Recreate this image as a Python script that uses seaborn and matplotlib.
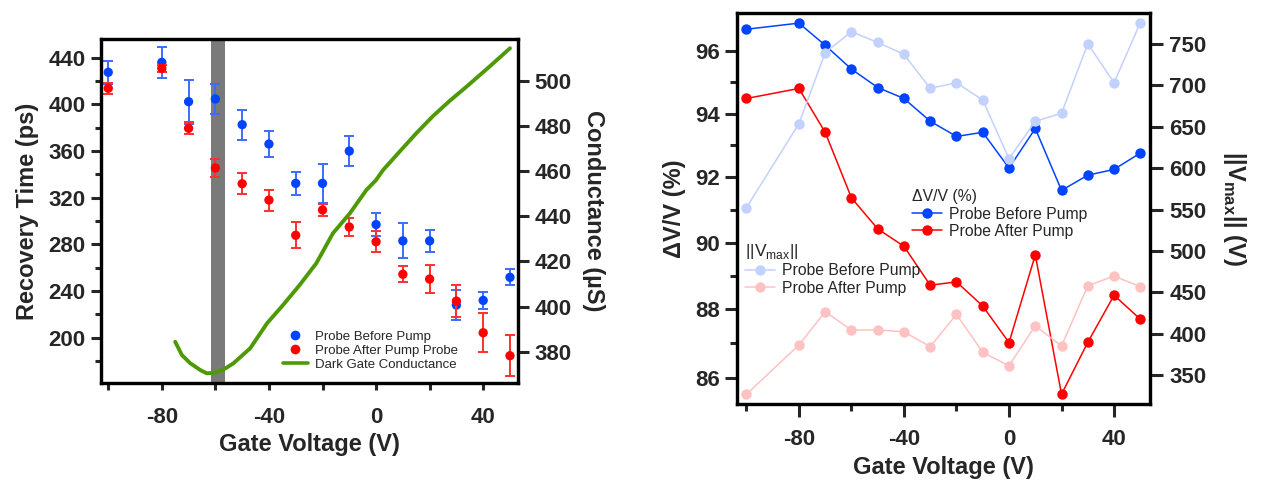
import matplotlib
matplotlib.use("Agg")
import matplotlib.pyplot as plt
import seaborn as sns
import numpy as np
import pandas as pd
from matplotlib.ticker import FixedLocator, NullFormatter, FuncFormatter, NullLocator
from matplotlib.lines import Line2D

# ---------------- data ----------------
gate = [-100, -80, -70, -60, -50, -40, -30, -20, -10, 0, 10, 20, 30, 40, 50]

rec_before = [427.5, 436, 402.3, 404.6, 382.6, 366, 332.3, 332.3, 360, 297, 283, 283, 228, 232, 251.8]
rec_before_err = [10, 13, 19, 13, 13, 11, 10, 16.5, 12.6, 10, 15, 9.5, 12.6, 7.3, 6.8]
rec_after = [413.8, 430.9, 379.5, 345.5, 332, 318, 287.8, 309.5, 294.9, 282.3, 254.4, 250.3, 231.4, 204.3, 184.6]
rec_after_err = [4.6, 3, 5, 8, 9, 9, 11, 5.5, 8, 9, 7, 11.7, 14, 16.5, 17.5]

cond_v = [-75, -72.5, -69.4, -65.7, -63.2, -60, -57.5, -55.7, -53.2, -47, -40.7, -34.5,
          -28.5, -22.3, -16.1, -9.8, -3.6, 0, 2.6, 8.8, 15, 21.3, 27.5, 33.8, 42, 50]
cond_g = [384.4, 378.5, 374.9, 371.9, 370.4, 370.7, 371.8, 373.0, 374.9, 381.5, 392.6, 401.0,
          409.6, 419.2, 432.5, 441.3, 451.7, 456.1, 460.5, 468.7, 476.8, 484.5, 491.2, 497.5, 506.0, 514.5]

dvv_before = [96.71, 96.91, 96.19, 95.42, 94.83, 94.48, 93.76, 93.28, 93.41, 92.29, 93.53, 91.6, 92.07, 92.25, 92.76]
dvv_after = [94.48, 94.8, 93.41, 91.37, 90.42, 89.89, 88.72, 88.82, 88.1, 87.02, 89.63, 85.52, 87.03, 88.42, 87.71]
vmax_before = [552.2, 653.7, 739.5, 764.9, 752, 737.5, 696.5, 703.2, 682.3, 611.4, 656.6, 666.3, 750.4, 703.2, 775.8]
vmax_after = [326.7, 386.3, 426.5, 404.4, 404.4, 402.3, 384.2, 423.3, 377.4, 361.2, 409.6, 385, 457.9, 469.6, 456.7]

labels_rec = ["Probe Before Pump", "Probe After Pump Probe", "Dark Gate Conductance"]
labels_dvv = ["Probe Before Pump", "Probe After Pump"]

# ---------------- style ----------------
sns.set_theme(style="ticks")
plt.rcParams["font.family"] = ["Liberation Sans", "DejaVu Sans"]
plt.rcParams["mathtext.fontset"] = "custom"
plt.rcParams["mathtext.rm"] = "Liberation Sans"
plt.rcParams["mathtext.bf"] = "Liberation Sans:bold"
plt.rcParams["axes.linewidth"] = 2.3
plt.rcParams["axes.unicode_minus"] = False

BLUE = "#0044ff"
BLUE_ERR = "#3a6cff"
RED = "#ff0000"
RED_ERR = "#ff3030"
GREEN = "#4e9a06"
LBLUE = "#c3d1ff"
LRED = "#ffc2c2"

TICK_FS = 16
LABEL_FS = 17

fig = plt.figure(figsize=(12.61, 4.83), dpi=100)

# ================= left panel =================
ax1 = fig.add_axes([0.0801, 0.2070, 0.3307, 0.7122])
ax1b = ax1.twinx()

ax1.axvspan(-61.5, -56.5, color="#7a7a7a", lw=0, zorder=0)

df_rec = pd.DataFrame({"gate": gate, "before": rec_before, "after": rec_after})
ax1.errorbar(gate, rec_before, yerr=rec_before_err, fmt="none", ecolor=BLUE_ERR,
             elinewidth=1.4, capsize=3.5, capthick=1.4, zorder=2)
sns.scatterplot(data=df_rec, x="gate", y="before", ax=ax1, color=BLUE, s=45,
                edgecolor="none", zorder=3, legend=False)
ax1.errorbar(gate, rec_after, yerr=rec_after_err, fmt="none", ecolor=RED_ERR,
             elinewidth=1.4, capsize=3.5, capthick=1.4, zorder=4)
sns.scatterplot(data=df_rec, x="gate", y="after", ax=ax1, color=RED, s=45,
                edgecolor="none", zorder=5, legend=False)

df_cond = pd.DataFrame({"v": cond_v, "g": cond_g})
sns.lineplot(data=df_cond, x="v", y="g", ax=ax1b, color=GREEN, lw=2.8, sort=False, legend=False)

ax1.set_xlim(-102.7, 53)
ax1.set_ylim(161.2, 456)
ax1b.set_ylim(366.1, 518.6)

ax1.xaxis.set_major_locator(FixedLocator([-80, -40, 0, 40]))
ax1.xaxis.set_minor_locator(FixedLocator([-100, -60, -20, 20]))
ax1.yaxis.set_major_locator(FixedLocator([200, 240, 280, 320, 360, 400, 440]))
ax1.yaxis.set_minor_locator(FixedLocator([180, 220, 260, 300, 340, 380, 420]))
ax1b.yaxis.set_major_locator(FixedLocator([380, 400, 420, 440, 460, 480, 500]))
ax1b.yaxis.set_minor_locator(NullLocator())

ax1.tick_params(axis="y", which="major", length=7, width=2.2, labelsize=TICK_FS, pad=4)
ax1.tick_params(axis="y", which="minor", length=4, width=2.2)
ax1.tick_params(axis="x", which="major", length=5, width=2.2, labelsize=TICK_FS, pad=12)
ax1.tick_params(axis="x", which="minor", length=5, width=2.2)
ax1b.tick_params(axis="y", which="major", length=8, width=2.2, labelsize=TICK_FS, pad=4)

for lab in ax1.get_xticklabels() + ax1.get_yticklabels() + ax1b.get_yticklabels():
    lab.set_fontweight("bold")

ax1.set_xlabel("Gate Voltage (V)", fontsize=LABEL_FS, fontweight="bold", labelpad=4)
ax1.set_ylabel("Recovery Time (ps)", fontsize=LABEL_FS, fontweight="bold", labelpad=7)
ax1b.set_ylabel("Conductance (µS)", fontsize=LABEL_FS, fontweight="bold", rotation=270,
                labelpad=24)

for a in (ax1, ax1b):
    for s in a.spines.values():
        s.set_linewidth(2.3)
        s.set_color("black")

h_left = [
    Line2D([], [], ls="none", marker="o", color=BLUE, markersize=7, mec="none"),
    Line2D([], [], ls="none", marker="o", color=RED, markersize=7, mec="none"),
    Line2D([], [], color=GREEN, lw=2.6),
]
leg1 = ax1b.legend(h_left, labels_rec, loc="lower left", bbox_to_anchor=(0.436, 0.035),
                   frameon=False, fontsize=9.5, borderpad=0, handlelength=1.9,
                   handletextpad=0.55, labelspacing=0.15, borderaxespad=0)

# ================= right panel =================
ax2 = fig.add_axes([0.5842, 0.1629, 0.3278, 0.8095])
ax2b = ax2.twinx()

df_dvv = pd.DataFrame({"gate": gate, "before": dvv_before, "after": dvv_after,
                       "vb": vmax_before, "va": vmax_after})

sns.lineplot(data=df_dvv, x="gate", y="before", ax=ax2, color=BLUE, lw=1.1, marker="o",
             markersize=7.5, mec="none", sort=False, legend=False)
sns.lineplot(data=df_dvv, x="gate", y="after", ax=ax2, color=RED, lw=1.1, marker="o",
             markersize=7.5, mec="none", sort=False, legend=False)
sns.lineplot(data=df_dvv, x="gate", y="vb", ax=ax2b, color=LBLUE, lw=1.1, marker="o",
             markersize=7.5, mec="none", sort=False, legend=False)
sns.lineplot(data=df_dvv, x="gate", y="va", ax=ax2b, color=LRED, lw=1.1, marker="o",
             markersize=7.5, mec="none", sort=False, legend=False)

ax2.set_yscale("log")
ax2.set_xlim(-103.7, 53.7)
ax2.set_ylim(85.23, 97.23)
ax2b.set_ylim(314.6, 787.1)

ax2.xaxis.set_major_locator(FixedLocator([-80, -40, 0, 40]))
ax2.xaxis.set_minor_locator(FixedLocator([-100, -60, -20, 20]))
ax2.yaxis.set_major_locator(FixedLocator([86, 88, 90, 92, 94, 96]))
ax2.yaxis.set_minor_locator(FixedLocator([87, 89, 91, 93, 95]))
ax2.yaxis.set_major_formatter(FuncFormatter(lambda v, p: f"{v:.0f}"))
ax2.yaxis.set_minor_formatter(NullFormatter())
ax2b.yaxis.set_major_locator(FixedLocator([350, 400, 450, 500, 550, 600, 650, 700, 750]))
ax2b.yaxis.set_minor_locator(NullLocator())

ax2.tick_params(axis="y", which="major", length=9, width=2.2, labelsize=TICK_FS, pad=3)
ax2.tick_params(axis="y", which="minor", length=5, width=2.2)
ax2.tick_params(axis="x", which="major", length=9, width=2.2, labelsize=TICK_FS, pad=9)
ax2.tick_params(axis="x", which="minor", length=5, width=2.2)
ax2b.tick_params(axis="y", which="major", length=9, width=2.2, labelsize=TICK_FS, pad=5)

for lab in ax2.get_xticklabels() + ax2.get_yticklabels() + ax2b.get_yticklabels():
    lab.set_fontweight("bold")

ax2.set_xlabel("Gate Voltage (V)", fontsize=LABEL_FS, fontweight="bold", labelpad=4)
ax2.set_ylabel("ΔV/V (%)", fontsize=LABEL_FS, fontweight="bold", labelpad=7)
ax2b.set_ylabel(r"||V$_{\mathbf{max}}$|| (V)", fontsize=LABEL_FS, fontweight="bold",
                rotation=270, labelpad=30)

for a in (ax2, ax2b):
    for s in a.spines.values():
        s.set_linewidth(2.3)
        s.set_color("black")

h_dvv = [Line2D([], [], color=BLUE, lw=1.1, marker="o", markersize=7.5, mec="none"),
         Line2D([], [], color=RED, lw=1.1, marker="o", markersize=7.5, mec="none")]
h_vmax = [Line2D([], [], color=LBLUE, lw=1.1, marker="o", markersize=7.5, mec="none"),
          Line2D([], [], color=LRED, lw=1.1, marker="o", markersize=7.5, mec="none")]

legA = ax2b.legend(h_dvv, labels_dvv, title="ΔV/V (%)", loc="upper left",
                   bbox_to_anchor=(0.424, 0.55), frameon=False, fontsize=11.3,
                   title_fontsize=11.3, borderpad=0, handlelength=1.9,
                   handletextpad=0.45, labelspacing=0.15, borderaxespad=0)
legA._legend_box.align = "left"
ax2b.add_artist(legA)
legB = ax2b.legend(h_vmax, labels_dvv, title=r"||V$_{\rm max}$||", loc="upper left",
                   bbox_to_anchor=(0.02, 0.415), frameon=False, fontsize=11.3,
                   title_fontsize=12.5, borderpad=0, handlelength=1.9,
                   handletextpad=0.45, labelspacing=0.15, borderaxespad=0)
legB._legend_box.align = "left"

fig.savefig("out.png", dpi=100)
